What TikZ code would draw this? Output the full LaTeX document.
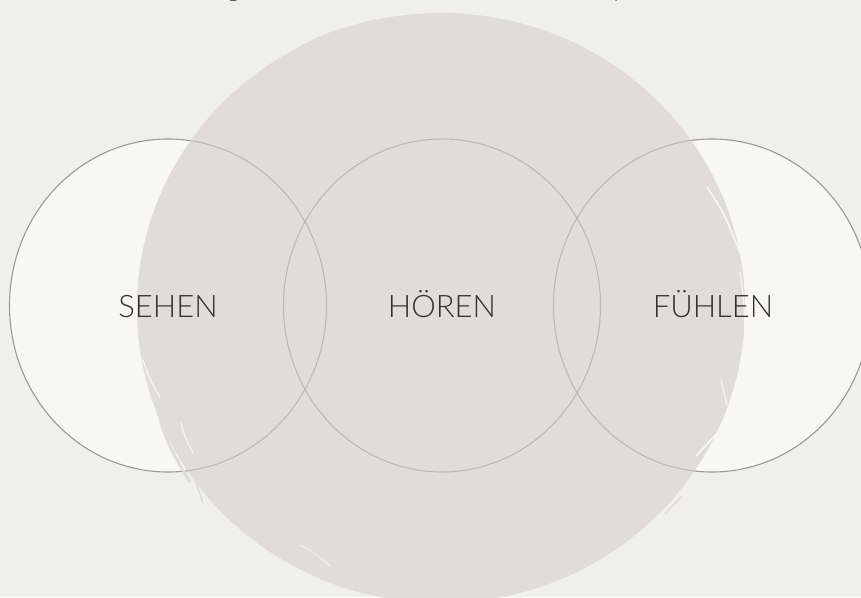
\documentclass[tikz,border=0pt]{standalone}
\usepackage{fontspec}
\usetikzlibrary{shapes.geometric}
\newfontfamily\sensefont{Lato Light}
\definecolor{paper}{HTML}{EFEFEB}
\definecolor{blobcol}{HTML}{E0DCD7}
\definecolor{ringfill}{HTML}{F7F7F3}
\definecolor{ringdark}{HTML}{9C9994}
\definecolor{ringlight}{HTML}{BDB9B4}
\definecolor{inkcol}{HTML}{36332D}
% outline of the brush-painted disc
\def\blobpath{(441,308) ellipse [x radius=304, y radius=295]}

\begin{document}
\begin{tikzpicture}[x=1pt,y=-1pt,
  ring/.style={ellipse,minimum width=317pt,minimum height=333pt,inner sep=0pt,line width=1.1pt},
  sense/.style={font=\sensefont\fontsize{31}{36}\selectfont,text=inkcol,anchor=base},
  streak/.style={draw=#1,line width=1.6pt,line cap=round}]
  \useasboundingbox (0,0) rectangle (861,597);
  \fill[paper] (0,0) rectangle (861,597);
  % cut-off line above
  \node[sense,font=\sensefont\fontsize{22}{26}\selectfont] (topg) at (236,-2) {g,};
  \node[sense,font=\sensefont\fontsize{22}{26}\selectfont] (topp) at (620,-2) {p};
  % three rings
  \node[ring,draw=ringdark,fill=ringfill] (sehenring) at (168,305.5) {};
  \node[ring,draw=ringdark,fill=ringfill] (hoerenring) at (442,305.5) {};
  \node[ring,draw=ringdark,fill=ringfill] (fuehlenring) at (712,305.5) {};
  % brush disc
  \fill[blobcol] \blobpath;
  \draw[streak=blobcol] (300,47) .. controls (330,32) .. (376,20);
  \draw[streak=blobcol,line width=1pt] (318,45) .. controls (345,33) .. (372,27);
  \draw[streak=blobcol,line width=3pt] (150,380) .. controls (165,440) .. (190,482);
  \draw[streak=blobcol] (180,420) .. controls (188,460) .. (203,503);
  \draw[streak=blobcol] (681,497) -- (665,514);
  \draw[streak=ringfill,line width=1.2pt] (143,360) .. controls (150,380) .. (160,397);
  \draw[streak=ringfill,line width=1.2pt] (181,423) .. controls (186,440) .. (193,453);
  \draw[streak=ringfill] (707,187) .. controls (725,215) .. (740,253);
  \draw[streak=ringfill,line width=1.2pt] (740,272) .. controls (744,300) .. (745,337);
  \draw[streak=ringfill,line width=1.2pt] (721,380) -- (727,405);
  \draw[streak=ringfill] (720,430) .. controls (708,443) .. (696,456);
  \draw[streak=paper,line width=1.2pt] (300,545) .. controls (315,553) .. (330,566);
  % rings seen through the disc
  \begin{scope}
    \clip \blobpath;
    \node[ring,draw=ringlight] (sehenrim) at (sehenring.center) {};
    \node[ring,draw=ringlight] (hoerenrim) at (hoerenring.center) {};
    \node[ring,draw=ringlight] (fuehlenrim) at (fuehlenring.center) {};
  \end{scope}
  \node[sense] (sehen) at (168,317) {SEHEN};
  \node[sense] (hoeren) at (442,317) {HÖREN};
  \node[sense] (fuehlen) at (713,317) {FÜHLEN};
\end{tikzpicture}
\end{document}
